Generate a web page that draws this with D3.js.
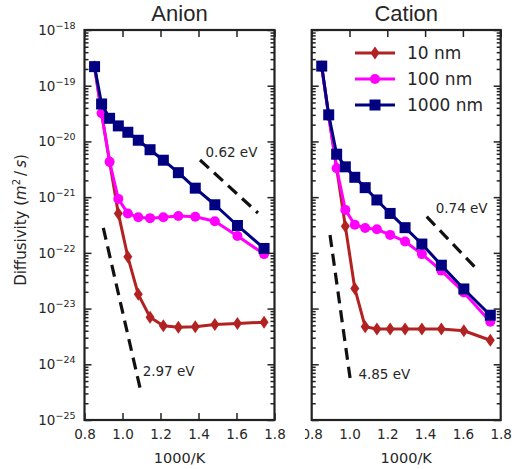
<!DOCTYPE html>
<html>
<head>
<meta charset="utf-8">
<script src="https://cdn.jsdelivr.net/npm/d3@7"></script>
<style>
  html, body { margin: 0; padding: 0; background: #fff; }
  svg { display: block; }
  text { fill: #262626; }
</style>
</head>
<body>
<svg id="chart" width="514" height="469"></svg>
<script>
// Inverse temperature (1000/K) of the sampled temperatures
const invT = [0.853, 0.890, 0.932, 0.978, 1.028, 1.083, 1.145, 1.215, 1.294, 1.383, 1.486, 1.605, 1.745];

// Anion diffusivity (m^2/s) per grain size
const anion10   = [2.2e-19, 3.2e-20, 4.3e-21, 5.1e-22, 8.5e-23, 1.8e-23, 7.0e-24, 4.9e-24, 4.6e-24, 4.7e-24, 5.2e-24, 5.4e-24, 5.7e-24];
const anion100  = [2.2e-19, 3.2e-20, 4.3e-21, 9.3e-22, 5.1e-22, 4.35e-22, 4.2e-22, 4.35e-22, 4.6e-22, 4.45e-22, 3.7e-22, 2.0e-22, 9.5e-23];
const anion1000 = [2.2e-19, 4.7e-20, 2.6e-20, 1.9e-20, 1.46e-20, 1.05e-20, 7.1e-21, 4.6e-21, 2.75e-21, 1.45e-21, 7.3e-22, 3.1e-22, 1.2e-22];

// Cation diffusivity (m^2/s) per grain size
const cation10   = [2.2e-19, 2.9e-20, 3.3e-21, 3.0e-22, 2.3e-23, 4.7e-24, 4.3e-24, 4.3e-24, 4.3e-24, 4.3e-24, 4.3e-24, 4.0e-24, 2.7e-24];
const cation100  = [2.2e-19, 2.9e-20, 3.3e-21, 5.9e-22, 3.2e-22, 2.8e-22, 2.65e-22, 2.1e-22, 1.6e-22, 9.5e-23, 4.8e-23, 1.95e-23, 5.8e-24];
const cation1000 = [2.25e-19, 3.0e-20, 5.9e-21, 3.5e-21, 2.27e-21, 1.48e-21, 8.9e-22, 5.1e-22, 2.83e-22, 1.44e-22, 6.0e-23, 2.25e-23, 7.6e-24];

// Activation-energy guide lines: endpoints and label anchor (x in 1000/K, y in m^2/s)
const anionGuideLabels = ["0.62 eV", "2.97 eV"];
const anionGuideX = [[1.408, 1.713], [0.899, 1.092]];
const anionGuideY = [[4.65e-21, 5.19e-22], [2.8e-22, 3.8e-25]];
const anionLabelX = [1.437, 1.106];
const anionLabelY = [5.25e-21, 6.15e-25];

const cationGuideLabels = ["0.74 eV", "4.85 eV"];
const cationGuideX = [[1.4085, 1.6815], [0.897, 1.003]];
const cationGuideY = [[4.46e-22, 4.8e-23], [2.09e-22, 5.66e-25]];
const cationLabelX = [1.456, 1.047];
const cationLabelY = [5.25e-22, 5.43e-25];

// Axis ticks
const xTicks = [0.8, 1.0, 1.2, 1.4, 1.6, 1.8];
const yExponents = [-18, -19, -20, -21, -22, -23, -24, -25];

const seriesNames = ["10 nm", "100 nm", "1000 nm"];
const seriesColors = ["#B22222", "#FF00FF", "#000080"];
const seriesMarkers = ["diamond", "circle", "square"];

const svg = d3.select("#chart");
const plotTop = 30, plotBottom = 420;
const majorTick = 7, minorTick = 4;
const axisColor = "#222";

const yDecades = yExponents.map(e => Math.pow(10, e));
const yMinor = [];
for (let e = -25; e < -18; e++) {
  for (let m = 2; m <= 9; m++) yMinor.push(m * Math.pow(10, e));
}

function markerPath(kind) {
  if (kind === "diamond") return "M0,-6.5L4.5,0L0,6.5L-4.5,0Z";
  if (kind === "square") return "M-5.5,-5.5H5.5V5.5H-5.5Z";
  return d3.symbol(d3.symbolCircle, Math.PI * 25)();
}

function drawPanel(opts) {
  const x = d3.scaleLinear().domain([0.8, 1.8]).range([opts.left, opts.right]);
  const y = d3.scaleLog().domain([1e-25, 1e-18]).range([plotBottom, plotTop]);
  const g = svg.append("g");

  // Series lines and markers
  opts.series.forEach((vals, i) => {
    const pts = vals.map((v, j) => [invT[j], v]);
    g.append("path")
      .attr("d", d3.line().x(d => x(d[0])).y(d => y(d[1]))(pts))
      .attr("fill", "none")
      .attr("stroke", seriesColors[i])
      .attr("stroke-width", 3)
      .attr("stroke-linejoin", "round");
    g.selectAll(null).data(pts).enter().append("path")
      .attr("d", markerPath(seriesMarkers[i]))
      .attr("transform", d => `translate(${x(d[0])},${y(d[1])})`)
      .attr("fill", seriesColors[i]);
  });

  // Guide lines
  opts.guideX.forEach((gx, i) => {
    g.append("line")
      .attr("x1", x(gx[0])).attr("y1", y(opts.guideY[i][0]))
      .attr("x2", x(gx[1])).attr("y2", y(opts.guideY[i][1]))
      .attr("stroke", "#111").attr("stroke-width", 3.2)
      .attr("stroke-dasharray", "12,7");
    g.append("text")
      .attr("x", x(opts.labelX[i])).attr("y", y(opts.labelY[i]))
      .attr("font-family", "DejaVu Sans").attr("font-size", 13.5)
      .text(opts.guideLabels[i]);
  });

  // Axes with inward ticks on all four sides
  const axes = g.append("g").attr("color", axisColor);
  const bottomAxis = axes.append("g").attr("transform", `translate(0,${plotBottom})`)
    .call(d3.axisBottom(x).tickValues(xTicks).tickSizeInner(-majorTick).tickSizeOuter(0)
      .tickPadding(9).tickFormat(d3.format(".1f")));
  bottomAxis.selectAll("text").attr("font-family", "DejaVu Sans").attr("font-size", 13.5).attr("fill", "#262626");
  if (opts.clipFirstLabel) {
    bottomAxis.attr("clip-path", "url(#rightLabelClip)");
  }
  axes.append("g").attr("transform", `translate(0,${plotTop})`)
    .call(d3.axisTop(x).tickValues(xTicks).tickSizeInner(-majorTick).tickSizeOuter(0).tickFormat(""));
  axes.append("g").attr("transform", `translate(${opts.left},0)`)
    .call(d3.axisLeft(y).tickValues(yDecades).tickSizeInner(-majorTick).tickSizeOuter(0).tickFormat(""));
  axes.append("g").attr("transform", `translate(${opts.left},0)`)
    .call(d3.axisLeft(y).tickValues(yMinor).tickSizeInner(-minorTick).tickSizeOuter(0).tickFormat(""));
  axes.append("g").attr("transform", `translate(${opts.right},0)`)
    .call(d3.axisRight(y).tickValues(yDecades).tickSizeInner(-majorTick).tickSizeOuter(0).tickFormat(""));
  axes.append("g").attr("transform", `translate(${opts.right},0)`)
    .call(d3.axisRight(y).tickValues(yMinor).tickSizeInner(-minorTick).tickSizeOuter(0).tickFormat(""));
  axes.selectAll(".domain").remove();
  axes.selectAll(".tick line").attr("stroke-width", 1.5);

  // Frame
  g.append("rect")
    .attr("x", opts.left).attr("y", plotTop)
    .attr("width", opts.right - opts.left).attr("height", plotBottom - plotTop)
    .attr("fill", "none").attr("stroke", axisColor).attr("stroke-width", 2.2);

  // Y tick labels as powers of ten
  if (opts.yLabels) {
    yExponents.forEach(e => {
      const t = g.append("text")
        .attr("x", opts.left - 9).attr("y", y(Math.pow(10, e)) + 4.8)
        .attr("text-anchor", "end")
        .attr("font-family", "DejaVu Sans").attr("font-size", 13.5);
      t.append("tspan").text("10");
      t.append("tspan").attr("font-size", 9.5).attr("dy", -6).text("\u2212" + Math.abs(e));
    });
  }

  // Title and x label
  const cx = (opts.left + opts.right) / 2;
  g.append("text").attr("x", cx).attr("y", 21).attr("text-anchor", "middle")
    .attr("font-family", "Liberation Sans").attr("font-size", 22).text(opts.title);
  g.append("text").attr("x", cx).attr("y", 462.5).attr("text-anchor", "middle")
    .attr("font-family", "DejaVu Sans").attr("font-size", 14.5).text("1000/K");

  return { x, y, g };
}

svg.append("defs").append("clipPath").attr("id", "rightLabelClip")
  .append("rect").attr("x", 305).attr("y", 0).attr("width", 220).attr("height", 469);

drawPanel({
  left: 84.5, right: 274.5, title: "Anion", yLabels: true,
  series: [anion10, anion100, anion1000],
  guideX: anionGuideX, guideY: anionGuideY, guideLabels: anionGuideLabels,
  labelX: anionLabelX, labelY: anionLabelY
});

drawPanel({
  left: 311.7, right: 500.7, title: "Cation", yLabels: false, clipFirstLabel: true,
  series: [cation10, cation100, cation1000],
  guideX: cationGuideX, guideY: cationGuideY, guideLabels: cationGuideLabels,
  labelX: cationLabelX, labelY: cationLabelY
});

// Legend
const legend = svg.append("g");
seriesNames.forEach((name, i) => {
  const ly = 53 + i * 26;
  legend.append("line").attr("x1", 355).attr("x2", 395).attr("y1", ly).attr("y2", ly)
    .attr("stroke", seriesColors[i]).attr("stroke-width", 3);
  legend.append("path").attr("d", markerPath(seriesMarkers[i]))
    .attr("transform", `translate(375,${ly})`).attr("fill", seriesColors[i]);
  legend.append("text").attr("x", 407).attr("y", ly + 6)
    .attr("font-family", "DejaVu Sans").attr("font-size", 17).text(name);
});

// Y axis title
const yTitle = svg.append("text")
  .attr("transform", "translate(26,220) rotate(-90)")
  .attr("text-anchor", "middle")
  .attr("font-family", "DejaVu Sans").attr("font-size", 15);
yTitle.append("tspan").text("Diffusivity (");
yTitle.append("tspan").attr("font-style", "italic").text("m");
yTitle.append("tspan").attr("font-size", 10).attr("dy", -6).text("2");
yTitle.append("tspan").attr("dy", 6).text("\u2009/\u2009");
yTitle.append("tspan").attr("font-style", "italic").text("s");
yTitle.append("tspan").text(")");
</script>
</body>
</html>
